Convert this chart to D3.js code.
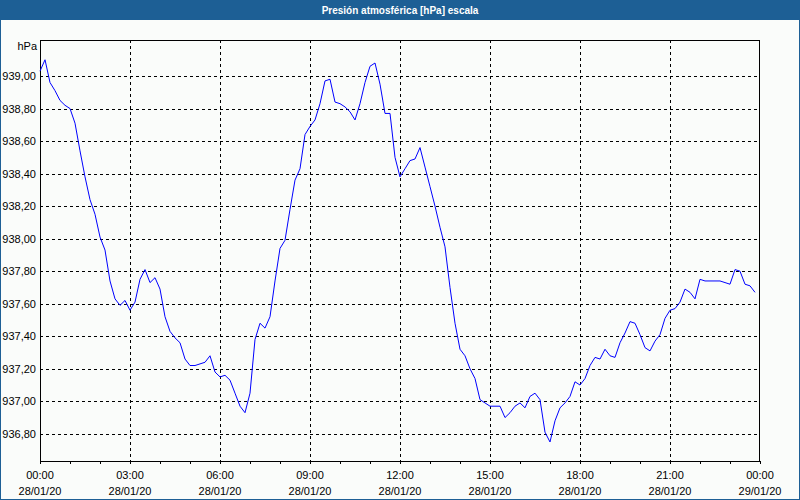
<!DOCTYPE html>
<html><head><meta charset="utf-8">
<script src="https://cdn.jsdelivr.net/npm/d3@7"></script>
<style>
html,body{margin:0;padding:0;background:#fafcfa;}
svg{display:block;}
</style></head>
<body>
<script>
const title = "Presión atmosférica [hPa] escala";
const unitLabel = "hPa";
const startTime = "2020-01-28T00:00:00";
const stepMinutes = 10;
const pressure = [
939.03,939.10,938.96,938.91,938.85,938.82,938.80,938.71,938.54,938.38,938.24,938.15,
938.01,937.93,937.74,937.63,937.59,937.62,937.56,937.61,937.75,937.81,937.73,937.76,
937.69,937.52,937.43,937.39,937.36,937.26,937.22,937.22,937.23,937.24,937.28,937.18,
937.15,937.16,937.13,937.05,936.97,936.93,937.05,937.38,937.48,937.45,937.52,937.74,
937.94,937.99,938.18,938.36,938.43,938.64,938.69,938.73,938.83,938.97,938.98,938.84,
938.83,938.81,938.78,938.73,938.83,938.96,939.06,939.08,938.95,938.77,938.77,938.50,
938.38,938.43,938.48,938.49,938.56,938.44,938.32,938.20,938.07,937.95,937.70,937.48,
937.32,937.28,937.20,937.14,937.01,936.99,936.97,936.97,936.97,936.90,936.93,936.97,
936.99,936.96,937.03,937.05,937.01,936.81,936.75,936.88,936.96,936.99,937.03,937.12,
937.10,937.14,937.22,937.27,937.26,937.32,937.28,937.27,937.36,937.42,937.49,937.48,
937.41,937.33,937.31,937.37,937.41,937.51,937.56,937.57,937.61,937.69,937.67,937.63,
937.75,937.74,937.74,937.74,937.74,937.73,937.72,937.81,937.80,937.72,937.71,937.67
];
const yTicks = [936.8,937.0,937.2,937.4,937.6,937.8,938.0,938.2,938.4,938.6,938.8,939.0];
const xMajorHours = [0,3,6,9,12,15,18,21,24];
const yDomain = [936.633, 939.2215];

const W = 800, H = 500;
const plot = {left:40, right:760, top:40, bottom:461};
const t0 = new Date(startTime);
const t1 = new Date(t0.getTime() + 24*3600*1000);
const data = pressure.map((v,i)=>({t:new Date(t0.getTime()+i*stepMinutes*60000), v}));

const font = "'Liberation Sans', Arial, sans-serif";

const svg = d3.select("body").append("svg").attr("width",W).attr("height",H);
svg.append("rect").attr("x",0).attr("y",0).attr("width",W).attr("height",H).attr("fill","#fafcfa");

// title bar
svg.append("rect").attr("x",0).attr("y",0).attr("width",W).attr("height",20).attr("fill","#1d5f95");
svg.append("text").attr("x",W/2).attr("y",14).attr("text-anchor","middle")
  .attr("fill","#ffffff").attr("font-family",font)
  .attr("font-weight","bold").attr("font-size","10px").text(title);
// outer border
svg.append("rect").attr("x",0.5).attr("y",0.5).attr("width",W-1).attr("height",H-1)
  .attr("fill","none").attr("stroke","#1d5f95").attr("stroke-width",1);

const x = d3.scaleTime().domain([t0,t1]).range([plot.left, plot.right]);
const y = d3.scaleLinear().domain(yDomain).range([plot.bottom, plot.top]);

// horizontal grid
const yAxis = d3.axisLeft(y).tickValues(yTicks)
  .tickSize(-(plot.right-plot.left)).tickPadding(4)
  .tickFormat(d=>d.toFixed(2).replace(".",","));
const gy = svg.append("g").attr("transform",`translate(${plot.left},0)`).call(yAxis);
gy.select(".domain").remove();
gy.selectAll(".tick line").attr("stroke","#000").attr("stroke-dasharray","3,3")
  .attr("shape-rendering","crispEdges");
gy.selectAll(".tick text").attr("font-family",font).attr("font-size","11px").attr("fill","#000")
  .attr("x",-4);

// vertical grid
const majorTimes = xMajorHours.map(h=>new Date(t0.getTime()+h*3600000));
svg.append("g").selectAll("line").data(majorTimes.slice(1,-1)).join("line")
  .attr("x1",d=>Math.round(x(d))+0.5).attr("x2",d=>Math.round(x(d))+0.5)
  .attr("y1",plot.top).attr("y2",plot.bottom)
  .attr("stroke","#000").attr("stroke-dasharray","3,3");

// bottom axis with hourly ticks
const hourly = d3.range(0,25).map(h=>new Date(t0.getTime()+h*3600000));
const xAxis = d3.axisBottom(x).tickValues(hourly).tickSize(3).tickFormat("");
const gx = svg.append("g").attr("transform",`translate(0,${plot.bottom})`).call(xAxis);
gx.select(".domain").remove();
gx.selectAll(".tick line").attr("stroke","#000");

// x labels (two lines)
const fmtT = d3.timeFormat("%H:%M"), fmtD = d3.timeFormat("%d/%m/%y");
const lbl = svg.append("g").attr("font-family",font).attr("font-size","11px").attr("fill","#000")
  .attr("text-anchor","middle");
lbl.selectAll("text.t").data(majorTimes).join("text").attr("class","t")
  .attr("x",d=>x(d)).attr("y",479).text(d=>fmtT(d));
lbl.selectAll("text.d").data(majorTimes).join("text").attr("class","d")
  .attr("x",d=>x(d)).attr("y",495).text(d=>fmtD(d));

// plot frame
svg.append("rect").attr("x",plot.left+0.5).attr("y",plot.top+0.5)
  .attr("width",plot.right-plot.left-1).attr("height",plot.bottom-plot.top)
  .attr("fill","none").attr("stroke","#000").attr("stroke-width",1);

// unit label
svg.append("text").attr("x",37).attr("y",50).attr("text-anchor","end")
  .attr("font-family",font).attr("font-size","11px").attr("fill","#000").text(unitLabel);

// line
const line = d3.line().x(d=>x(d.t)).y(d=>y(d.v));
svg.append("path").datum(data).attr("d",line).attr("fill","none")
  .attr("stroke","#0000ff").attr("stroke-width",1);
</script>
</body></html>
